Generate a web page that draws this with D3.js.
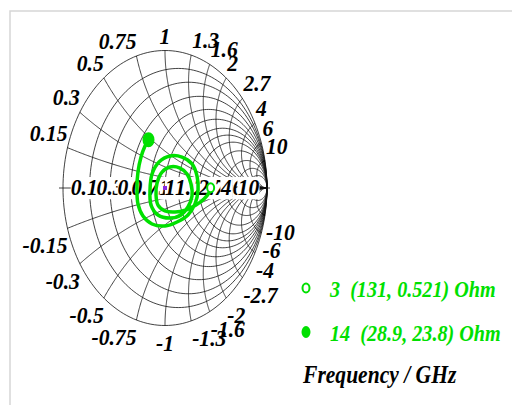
<!DOCTYPE html>
<meta charset="utf-8">
<style>
body { margin: 0; background: #fff; }
svg text { font-family: "Liberation Serif", "Times New Roman", serif; font-weight: bold; font-style: italic; }
.grid { fill: none; stroke: #111; stroke-width: 0.8; }
.trace { fill: none; stroke: #00e000; stroke-width: 3.5; }
</style>
<body>
<svg width="512" height="405"></svg>
<script src="https://cdnjs.cloudflare.com/ajax/libs/d3/7.8.5/d3.min.js"></script>
<script>
var Z0 = 50;
// normalized resistance circles / reactance arcs of the grid
var rValues = [0.15, 0.3, 0.5, 0.75, 1, 1.3, 1.6, 2, 2.7, 4, 6, 10];
var xValues = [0.15, 0.3, 0.5, 0.75, 1, 1.3, 1.6, 2, 2.7, 4, 6, 10];
var gridLabels = ["0.15", "0.3", "0.5", "0.75", "1", "1.3", "1.6", "2", "2.7", "4", "6", "10"];

// reflection coefficient trace, 3 GHz -> 14 GHz
var traceRe = [0.4475, 0.431, 0.382, 0.304, 0.206, 0.098, 0.000, -0.069, -0.088, -0.078, -0.029, 0.049, 0.147, 0.216, 0.255, 0.265, 0.225, 0.157, 0.049, -0.069, -0.137, -0.147, -0.127, -0.059, 0.049, 0.167, 0.265, 0.314, 0.324, 0.294, 0.225, 0.118, 0.000, -0.127, -0.216, -0.265, -0.275, -0.265, -0.235, -0.196, -0.1617];
var traceIm = [0.0016, -0.036, -0.080, -0.124, -0.160, -0.175, -0.167, -0.124, -0.051, 0.036, 0.116, 0.153, 0.145, 0.102, 0.029, -0.058, -0.138, -0.196, -0.218, -0.196, -0.124, -0.015, 0.102, 0.189, 0.233, 0.225, 0.175, 0.087, -0.015, -0.116, -0.196, -0.247, -0.276, -0.262, -0.204, -0.116, 0.000, 0.116, 0.225, 0.305, 0.3505];

// markers
var markerFreq = ["3", "14"];
var markerR = [131, 28.9];
var markerX = [0.521, 23.8];
var markerFilled = [false, true];

var svg = d3.select("svg");

var sx = d3.scaleLinear().domain([-1, 1]).range([63, 267]);
var sy = d3.scaleLinear().domain([-1, 1]).range([325.5, 50.5]);

function gamma(r, x) {
  var den = (r + 1) * (r + 1) + x * x;
  return [(r * r + x * x - 1) / den, 2 * x / den];
}

var line = d3.line()
  .x(function(d) { return sx(d[0]); })
  .y(function(d) { return sy(d[1]); });

// text squeezed a bit sideways like the original
function label(parent, x, y, anchor, size, txt) {
  return parent.append("text")
    .attr("transform", "translate(" + x + "," + y + ") scale(0.9,1)")
    .attr("text-anchor", anchor)
    .style("font-size", size + "px")
    .text(txt);
}

// frame
svg.append("path")
  .attr("d", "M10,405V11H512")
  .attr("fill", "none")
  .attr("stroke", "#d6d6d6")
  .attr("stroke-width", 1.5);

var g = svg.append("g");

// resistance circles
rValues.forEach(function(r) {
  var pts = d3.range(0, 361, 2).map(function(a) {
    var t = a * Math.PI / 180, c = r / (1 + r), rad = 1 / (1 + r);
    return [c + rad * Math.cos(t), rad * Math.sin(t)];
  });
  g.append("path").attr("class", "grid").attr("d", line(pts));
});

// reactance arcs
xValues.forEach(function(x) {
  [x, -x].forEach(function(xx) {
    var pts = d3.range(0, 1, 0.005).map(function(t) {
      return gamma(Math.tan(t * Math.PI / 2), xx);
    });
    pts.push([1, 0]);
    g.append("path").attr("class", "grid").attr("d", line(pts));
  });
});

// outer circle and real axis
g.append("path").attr("class", "grid").attr("stroke-width", 1)
  .attr("d", line(d3.range(0, 361, 2).map(function(a) {
    var t = a * Math.PI / 180; return [Math.cos(t), Math.sin(t)];
  })));
g.append("line").attr("class", "grid").attr("stroke-width", 1.2)
  .attr("x1", sx(-1) - 4).attr("x2", sx(1) + 3)
  .attr("y1", sy(0)).attr("y2", sy(0));

// reactance labels around the rim
xValues.forEach(function(x, i) {
  [1, -1].forEach(function(s) {
    var p = gamma(0, s * x);
    var anchor = p[0] < -0.1 ? "end" : (p[0] > 0.1 ? "start" : "middle");
    label(svg, sx(p[0]) + (anchor == "start" ? 1 : 0), sy(p[1]) + (s > 0 ? -7 : 25),
      anchor, 24, (s < 0 ? "-" : "") + gridLabels[i]);
  });
});

// resistance labels on the real axis, each on a white box
rValues.forEach(function(r, i) {
  var lg = svg.append("g");
  var t = label(lg, sx(gamma(r, 0)[0]), sy(0) + 7, "middle", 24, gridLabels[i]);
  var b = t.node().getBBox();
  var cx = sx(gamma(r, 0)[0]);
  lg.insert("rect", "text")
    .attr("x", cx - b.width * 0.45).attr("y", sy(0) + 7 + b.y + 3)
    .attr("width", b.width * 0.9).attr("height", b.height - 4)
    .attr("fill", "#fff");
});

// trace
var trace = traceRe.map(function(d, i) { return [d, traceIm[i]]; });
svg.append("path").attr("class", "trace")
  .attr("d", line.curve(d3.curveCatmullRom)(trace));
line.curve(d3.curveLinear);

// centre marker
svg.append("rect").attr("x", sx(0) - 2).attr("y", sy(0) - 2)
  .attr("width", 4).attr("height", 4).attr("fill", "#8a2be2");

// markers on chart
markerR.forEach(function(R, i) {
  var p = gamma(R / Z0, markerX[i] / Z0);
  svg.append("ellipse")
    .attr("cx", sx(p[0])).attr("cy", sy(p[1]))
    .attr("rx", markerFilled[i] ? 5 : 3.5).attr("ry", markerFilled[i] ? 6.5 : 4.5)
    .attr("fill", markerFilled[i] ? "#00e000" : "#fff")
    .attr("stroke", "#00e000").attr("stroke-width", 2);
});

// legend
var legendY = [288, 332];
markerR.forEach(function(R, i) {
  svg.append("ellipse")
    .attr("cx", 306).attr("cy", legendY[i])
    .attr("rx", 3.5).attr("ry", markerFilled[i] ? 5 : 4.5)
    .attr("fill", markerFilled[i] ? "#00e000" : "#fff")
    .attr("stroke", "#00e000").attr("stroke-width", 2);
  svg.append("text")
    .attr("transform", "translate(330," + (legendY[i] + 9) + ") scale(0.96,1.08)")
    .attr("fill", "#00e000")
    .style("font-size", "21px")
    .style("white-space", "pre")
    .text(markerFreq[i] + "  (" + R + ", " + markerX[i] + ") Ohm");
});

svg.append("text")
  .attr("transform", "translate(303,383) scale(0.83,1)")
  .style("font-size", "26px")
  .text("Frequency / GHz");
</script>
</body>
